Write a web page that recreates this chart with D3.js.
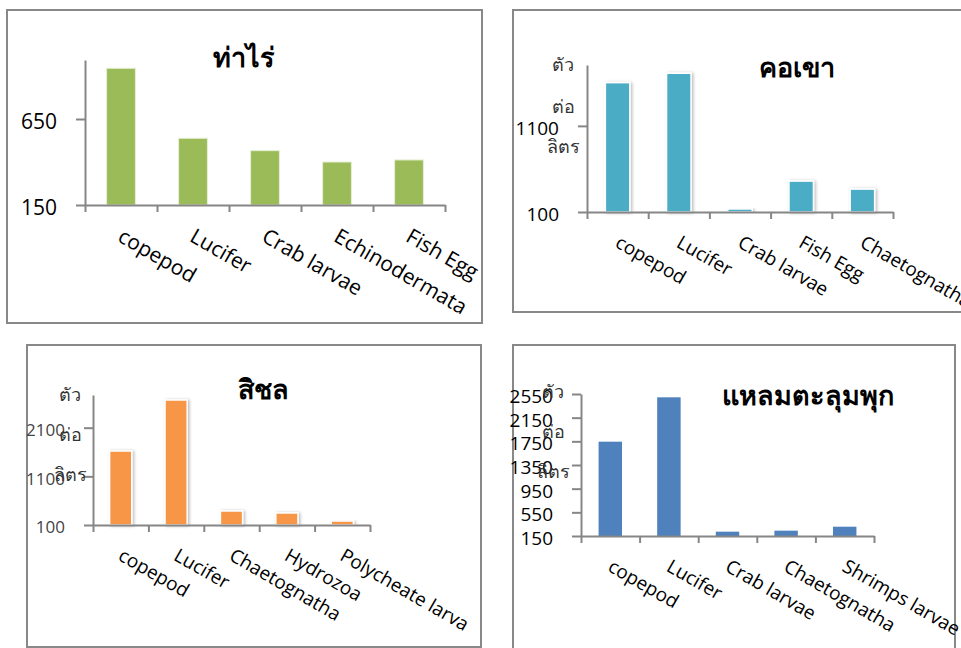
<!DOCTYPE html>
<html>
<head>
<meta charset="utf-8">
<script src="https://cdn.jsdelivr.net/npm/d3@7"></script>
<style>
  html, body { margin: 0; padding: 0; background: #fff; }
  svg { display: block; }
  text { font-family: "Open Sans", "Noto Sans", sans-serif; }
</style>
</head>
<body>
<svg id="chart" width="961" height="648"></svg>
<script>
// Plankton density (individuals per litre) at four stations
const thaRaiCategories = ["copepod", "Lucifer", "Crab larvae", "Echinodermata", "Fish Egg"];
const thaRaiValues = [945, 538, 466, 400, 412];
const thaRaiTicks = [150, 650];

const khoKhaoCategories = ["copepod", "Lucifer", "Crab larvae", "Fish Egg", "Chaetognatha"];
const khoKhaoValues = [1602, 1711, 135, 459, 366];
const khoKhaoTicks = [100, 1100];

const sichonCategories = ["copepod", "Lucifer", "Chaetognatha", "Hydrozoa", "Polycheate larva"];
const sichonValues = [1621, 2669, 388, 347, 182];
const sichonTicks = [100, 1100, 2100];

const laemCategories = ["copepod", "Lucifer", "Crab larvae", "Chaetognatha", "Shrimps larvae"];
const laemValues = [1744, 2494, 223, 240, 307];
const laemTicks = [150, 550, 950, 1350, 1750, 2150, 2550];

const unitLines = ["ตัว", "ต่อ", "ลิตร"];

const svg = d3.select("#chart");

// soft shadow used by the Office-style bars
const defs = svg.append("defs");
const f = defs.append("filter").attr("id", "barShadow")
  .attr("x", "-40%").attr("y", "-20%").attr("width", "180%").attr("height", "140%");
f.append("feDropShadow").attr("dx", 1.5).attr("dy", 0.5).attr("stdDeviation", 1.6)
  .attr("flood-color", "#000").attr("flood-opacity", 0.28);

const panels = [
  { title: "ท่าไร่", cats: thaRaiCategories, vals: thaRaiValues, ticks: thaRaiTicks,
    color: "#9BBB59", domain: [150, 993],
    frame: [7, 10, 475, 313], plot: [85, 445, 60, 205],
    titleX: 244, titleY: 67, titleSize: 27,
    tickSize: 21, labelSize: 21, tickColor: "#000", shadow: false, unit: null },
  { title: "คอเขา", cats: khoKhaoCategories, vals: khoKhaoValues, ticks: khoKhaoTicks,
    color: "#4BACC6", domain: [100, 1807],
    frame: [513, 10, 470, 302], plot: [587, 893, 65, 212],
    titleX: 797, titleY: 77, titleSize: 27,
    tickSize: 19, labelSize: 19, tickColor: "#000", shadow: true,
    unit: { x: 563, ys: [65, 107, 147], size: 18 } },
  { title: "สิชล", cats: sichonCategories, vals: sichonValues, ticks: sichonTicks,
    color: "#F79646", domain: [100, 2772],
    frame: [27, 345, 454, 302], plot: [93, 370, 395, 525],
    titleX: 263, titleY: 399, titleSize: 27,
    tickSize: 17, labelSize: 19, tickColor: "#444", shadow: true,
    unit: { x: 70, ys: [395, 435, 475], size: 18 } },
  { title: "แหลมตะลุมพุก", cats: laemCategories, vals: laemValues, ticks: laemTicks,
    color: "#4F81BD", domain: [150, 2550],
    frame: [513, 345, 442, 320], plot: [581, 874, 394, 536],
    titleX: 808, titleY: 405, titleSize: 27,
    tickSize: 19, labelSize: 19, tickColor: "#000", shadow: false,
    unit: { x: 553, ys: [392, 432, 472], size: 18 } }
];

panels.forEach(p => {
  const g = svg.append("g");
  const [fx, fy, fw, fh] = p.frame;
  const [x0, x1, yT, yB] = p.plot;

  g.append("rect").attr("x", fx).attr("y", fy).attr("width", fw).attr("height", fh)
    .attr("fill", "#fff").attr("stroke", "#888").attr("stroke-width", 2);

  const x = d3.scaleBand().domain(p.cats).range([x0, x1]).paddingInner(0.6).paddingOuter(0.3);
  const y = d3.scaleLinear().domain(p.domain).range([yB, yT]);
  const slots = d3.scaleLinear().domain([0, p.cats.length]).range([x0, x1]);

  // bars
  g.selectAll("rect.bar").data(p.vals).join("rect")
    .attr("class", "bar")
    .attr("x", (d, i) => x(p.cats[i]))
    .attr("width", x.bandwidth())
    .attr("y", d => y(d))
    .attr("height", d => y(p.domain[0]) - y(d))
    .attr("fill", p.color)
    .attr("stroke", p.shadow ? "#fff" : (p.color === "#9BBB59" ? "#e6efd6" : "none"))
    .attr("stroke-width", p.shadow ? 1.5 : 1)
    .attr("filter", p.shadow ? "url(#barShadow)" : null);

  // value axis
  const yAxis = g.append("g").attr("transform", `translate(${x0},0)`)
    .call(d3.axisLeft(y).tickValues(p.ticks).tickFormat(d3.format("d"))
      .tickSize(9).tickSizeOuter(0).tickPadding(19));
  yAxis.select(".domain").attr("stroke", "#868686").attr("stroke-width", 2);
  yAxis.selectAll(".tick line").attr("stroke", "#868686").attr("stroke-width", 2);
  yAxis.selectAll(".tick text")
    .style("font-size", p.tickSize + "px").attr("fill", p.tickColor).attr("dy", "0.45em");

  // category axis with ticks on the slot boundaries
  const xAxis = g.append("g").attr("transform", `translate(0,${yB})`)
    .call(d3.axisBottom(slots).tickValues(d3.range(p.cats.length + 1)).tickFormat("").tickSize(7).tickSizeOuter(0));
  xAxis.select(".domain").attr("stroke", "#868686").attr("stroke-width", 2);
  xAxis.selectAll(".tick line").attr("stroke", "#868686").attr("stroke-width", 2);

  // rotated category labels
  g.selectAll("text.cat").data(p.cats).join("text")
    .attr("class", "cat")
    .attr("transform", d => `translate(${x(d) + x.bandwidth() / 2 + 4},${yB + 21}) rotate(30)`)
    .attr("dy", "0.8em")
    .style("font-size", p.labelSize + "px")
    .attr("fill", "#000")
    .text(d => d);

  // title
  g.append("text").attr("x", p.titleX).attr("y", p.titleY)
    .attr("text-anchor", "middle")
    .style("font-size", p.titleSize + "px").style("font-weight", "bold")
    .attr("fill", "#000").text(p.title);

  // unit label stacked beside the value axis
  if (p.unit) {
    g.selectAll("text.unit").data(unitLines).join("text")
      .attr("class", "unit")
      .attr("x", p.unit.x).attr("y", (d, i) => p.unit.ys[i])
      .attr("dy", "0.35em").attr("text-anchor", "middle")
      .style("font-size", p.unit.size + "px").attr("fill", "#333")
      .text(d => d);
  }
});
</script>
</body>
</html>
